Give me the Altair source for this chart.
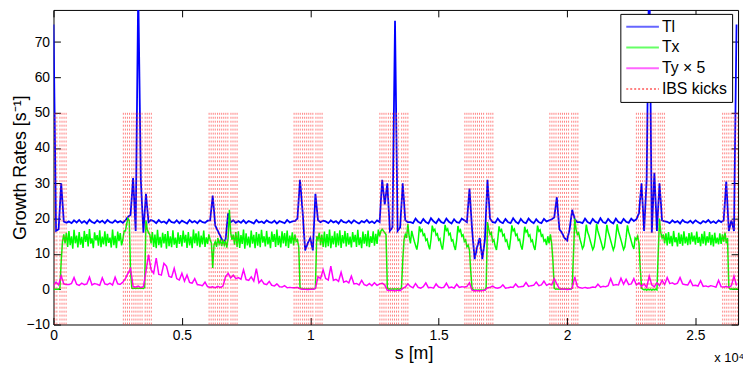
import altair as alt
import pandas as pd

RING_LENGTH = 26659
TL_STEP = 100   # metres between Tl samples
TX_STEP = 50    # metres between Tx samples
TY_STEP = 100   # metres between Ty x 5 samples

TL = [
    75, 16.5, 17, 30, 19.2, 18.8, 19.2, 18.7, 19.5, 18.9,
    19.6, 18.8, 19.3, 18.6, 19.7, 19.0, 18.7, 19.5, 18.9, 19.4,
    18.7, 19.6, 19.0, 18.8, 19.5, 18.9, 19.3, 18.8, 19.5, 20.5,
    21, 31.5, 16.5, 85, 31, 16, 27, 19, 19.6, 19.3,
    18.7, 19.6, 18.9, 19.2, 18.6, 19.7, 19.0, 18.8, 19.5, 18.7,
    19.4, 19.0, 18.6, 19.6, 18.9, 19.3, 18.7, 19.5, 19.0, 18.8,
    19.4, 19.5, 26.5, 18, 16.5, 15, 13.5, 14, 21.5, 19,
    19.5, 18.8, 19.3, 18.8, 19.5, 18.7, 19.3, 19.0, 18.6, 19.6,
    18.9, 19.2, 18.7, 19.5, 19.0, 18.8, 19.4, 18.6, 19.3, 19.0,
    18.7, 19.6, 18.9, 19.2, 19.3, 20, 31, 22, 11, 13,
    14.5, 11, 27, 19.5, 19, 19.4, 19.2, 18.7, 19.5, 18.9,
    19.3, 18.6, 19.6, 19.0, 18.8, 19.4, 18.7, 19.5, 19.0, 18.6,
    19.3, 18.9, 19.6, 18.8, 19.2, 18.7, 19.5, 19, 31, 24,
    30, 16.5, 17.5, 76, 16.5, 17.5, 30, 19.5, 19, 19.0,
    18.7, 20.0, 19.1, 18.7, 19.9, 19.0, 18.6, 20.1, 19.2, 18.7,
    19.9, 19.0, 18.7, 20.0, 19.1, 18.6, 19.8, 19.0, 18.8, 20.0,
    19.5, 19, 28.5, 17, 8.5, 12, 14.5, 8.5, 14, 31,
    20, 19, 18.8, 20.0, 19.1, 18.7, 19.9, 19.0, 18.7, 20.1,
    19.1, 18.6, 19.9, 19.0, 18.7, 20.0, 19.2, 18.7, 19.8, 19.0,
    18.7, 19.9, 19.2, 19.5, 19.8, 20.3, 26, 17, 16, 14.5,
    13.8, 17, 22.5, 19.8, 19, 19.0, 18.7, 20.0, 19.0, 18.6,
    19.9, 19.1, 18.7, 20.1, 19.0, 18.7, 19.9, 19.1, 18.6, 20.0,
    19.0, 18.7, 19.9, 19.1, 18.8, 20.0, 19.3, 19.8, 21.5, 30,
    16.5, 31, 95, 16, 33, 16.5, 30, 19.5, 19.2, 19.1,
    18.7, 19.5, 18.9, 19.3, 18.6, 19.6, 19.0, 18.8, 19.4, 18.7,
    19.5, 19.0, 18.6, 19.3, 18.9, 19.6, 18.8, 19.2, 18.7, 19.5,
    19.0, 19.5, 30.5, 16.5, 19.5, 16.5, 75,
]

TX = [
    0, 0, 0, 0, 0, 0.3, 8, 13.5, 15.5, 13, 16, 12, 16.5, 12.5, 15, 11.5, 16.8, 13, 15.2, 11.8,
    16.2, 12.6, 14.8, 11.7, 16.5, 13.4, 15.6, 12.1, 17, 12.9, 14.4, 11.6, 16.1, 13.8, 15.3, 12.3, 16.7, 11.9, 14.9, 12.7,
    16.4, 12.2, 15.7, 13.1, 14.6, 11.8, 16.9, 12.5, 15.1, 11.6, 16.3, 13.6, 15.9, 12.4, 14, 16.5, 16.5, 18.5, 20, 19.5,
    5, 0.3, 0.2, 0.3, 0.2, 0.3, 0.2, 0.3, 0.2, 0.3, 0.2, 0.5, 19.5, 17, 16, 15.5, 13, 16.2, 12, 15.5,
    11.6, 16.8, 12.5, 14.8, 11.8, 16, 13, 15.6, 11.5, 16.5, 12.2, 15, 11.9, 16.7, 12.6, 14.6, 11.7, 16.1, 12.8, 15.3,
    12.1, 16.6, 13.2, 15.4, 11.7, 16.2, 12.4, 14.9, 11.6, 16.9, 13, 15.8, 12.3, 16.4, 11.9, 15.2, 12.7, 16.6, 12, 14.7,
    12.8, 15.5, 14, 13, 6, 12.5, 13.5, 12, 14.5, 12.8, 13.8, 12.2, 14, 12.5, 13.5, 11.8, 14.5, 22.5, 16, 14,
    15.5, 12.6, 16.2, 12, 16.4, 11.7, 15.3, 12.8, 16.9, 11.5, 15.8, 12.4, 14.9, 11.8, 16.6, 12.9, 15.4, 11.6, 16.2, 12.3,
    15.7, 11.9, 16.8, 13.2, 15, 12.1, 16.5, 12.7, 14.8, 11.6, 16.3, 13.4, 15.6, 12, 16.9, 12.5, 15.1, 11.8, 16.4, 13,
    15.9, 12.2, 16.6, 11.7, 15.2, 12.9, 16.1, 12.4, 15.5, 13.5, 14, 12, 0.5, 0.2, 0, 0.1, 0, 0.1, 0, 0.1,
    0, 0.1, 0, 0.1, 0.3, 15, 14, 16, 12.5, 15.5, 12, 16.3, 11.8, 15.6, 12.2, 16.9, 11.6, 15.1, 12.7, 16.4,
    11.9, 15.8, 12.4, 16.7, 11.7, 15.3, 13, 16.5, 12.1, 15.9, 12.6, 14.9, 11.8, 16.2, 13.3, 15.4, 12, 16.8, 12.5, 14.7,
    11.6, 16.3, 12.9, 15.6, 12.2, 16.6, 11.9, 15, 13.1, 16.4, 12.3, 15.7, 12.8, 16.9, 15, 16.5, 17, 16.5, 16, 15.5,
    0.3, 0, 0.1, 0, 0.1, 0, 0.1, 0, 0.1, 0, 0.1, 0.3, 8, 14, 15.5, 14.5, 18.5, 15, 13, 16.5,
    15, 13.6, 12.4, 11.2, 13.5, 17.8, 16.4, 16.9, 15.2, 15.6, 13.8, 14.2, 12.5, 11.3, 14, 18, 16.5, 17, 15.3, 15.7,
    13.9, 14.3, 12.4, 11.2, 14.2, 18.2, 16.6, 17.1, 15.4, 15.8, 13.7, 14, 12.3, 11.1, 13.8, 17.9, 16.3, 16.8, 15, 15.4,
    13.5, 14, 12, 12.5, 11, 5, 0.2, -0.2, -0.3, -0.2, -0.3, -0.2, -0.3, -0.2, -0.3, -0.2, -0.3, 0.5, 19, 17,
    15.5, 16, 13.5, 14, 12.2, 11.1, 14, 17.8, 16.4, 16.9, 15.1, 15.5, 13.6, 14, 12.3, 11.2, 14.2, 18.1, 16.5, 17,
    15.2, 15.6, 13.8, 14.1, 12.4, 11.2, 13.9, 17.7, 16.2, 16.7, 15, 15.4, 13.5, 13.9, 12.2, 11.1, 14.1, 18, 16.4, 16.8,
    15, 15.4, 13.6, 14, 12.5, 15, 13, 15.5, 13, 8, 0.3, 0, 0.1, 0, 0.1, 0, 0.1, 0, 0.1, 0,
    0.1, 0, 0.1, 0, 0.3, 10, 20, 17, 15.5, 16, 14.2, 13, 11.5, 12.2, 14.8, 18.3, 16.2, 15.2, 13.8, 12.5,
    11.2, 12, 14.5, 18.5, 16.5, 15.3, 14, 12.7, 11.3, 11.9, 14.6, 18.2, 16.3, 15.1, 13.7, 12.4, 11.1, 12.1, 14.9, 18.4,
    16.4, 15.2, 13.9, 12.6, 11.2, 12, 14.7, 18.1, 16.2, 15, 13.6, 12.3, 11.4, 14.5, 14, 15, 13, 6, 0.3, 0,
    -0.2, 0, -0.3, 0, -0.2, 0, -0.3, 0, -0.2, 0, -0.2, 10, 20, 16, 14.5, 15.5, 13, 15.8, 12.4, 16.2,
    12.9, 15.1, 12.2, 16.5, 13.3, 14.7, 12.1, 16, 12.8, 15.5, 12.3, 16.4, 13, 14.9, 12.5, 15.9, 12.7, 16.1, 13.5, 15.2,
    12.6, 16.3, 13.1, 14.8, 12.2, 15.7, 12.9, 16.4, 12.4, 15, 13.2, 16.2, 12.5, 15.4, 12.1, 16, 13, 14.6, 12.7, 15.8,
    12.8, 15.5, 13.5, 16, 13, 14.5, 0.5, 0, 0.1, 0, 0.1, 0, 0.1, 0,
]

TY5 = [
    1, 2, 1.2, 3.8, 1.5, 1.3, 1.3, 1.6, 3.3, 1.4,
    1.1, 1.7, 1.3, 1.5, 3.4, 1.2, 1.6, 1.4, 1.1, 3.2,
    1.5, 1.3, 1.7, 1.2, 3.4, 1.5, 1.4, 2.0, 3, 4.5,
    5.8, 0.8, 0.6, 0.9, 0.5, 0.7, 5, 9.8, 5.5, 4.5,
    8.8, 4.2, 4.0, 7.3, 6.5, 3.6, 3.4, 5.9, 3.0, 2.6,
    4.5, 2.3, 4.0, 1.9, 1.7, 3.0, 1.3, 1.2, 1.0, 2.0,
    0.7, 0.5, 0.7, 0.4, 0.8, 0.5, 0.9, 3.5, 4.5, 3.2,
    4, 3, 3.3, 2.8, 5.5, 2.7, 2.5, 3.5, 2.3, 5.8,
    1.8, 2.6, 1.5, 1.3, 2.2, 1.1, 0.9, 1.5, 0.7, 0.6,
    1.0, 0.4, 0.5, 0.4, 0.4, 0.5, 0.1, 0, 0, -0.1,
    0, 0, 0.2, 3.5, 3, 5.5, 3, 2.6, 6.5, 2.5,
    2.8, 2.2, 4.8, 2, 2.3, 1.8, 3.7, 1.5, 1.6, 1.2,
    2.5, 1.3, 1.0, 1.6, 1.0, 1.8, 1.1, 1.5, 1.7, 1.2,
    -0.3, -0.4, -0.3, -0.5, -0.3, -0.4, 0.2, 0.6, 1.5, 0.8,
    0.4, 1.6, 0.5, 0.3, 0.7, 1.8, 0.4, 0.5, 0.3, 1.5,
    0.6, 0.4, 0.5, 1.7, 0.4, 0.6, 0.3, 1.4, 0.5, 0.7,
    0.6, 0.8, 1.8, -0.3, -0.5, -0.4, -0.5, -0.4, -0.3, 0.4,
    0.5, 0.9, 0.4, 0.3, 0.5, 1.2, 0.3, 0.4, 0.6, 0.5,
    1.5, 0.6, 0.7, 0.8, 1.9, 0.8, 1.0, 1.1, 2.0, 1.0,
    1.2, 2.3, 1.1, 1.5, 1.2, 3, 1.5, 0.2, 0, 0.1,
    -0.1, 0, 0.3, 3.5, 0.8, 0.4, 0.3, 0.5, 0.3, 0.4,
    0.6, 0.5, 1.4, 0.6, 0.8, 0.7, 1.0, 3.0, 1.1, 1.3,
    1.2, 3.1, 1.4, 2.8, 1.3, 1.5, 3.0, 1.2, 1.8, 0.8,
    1.5, 0.5, 3.7, 1.2, 0.7, 1.8, 1, 2.5, 1.3, 3.3,
    1.6, 1.8, 1.4, 1.7, 3.3, 1.5, 1.3, 1.2, 2.5, 1.0,
    1.1, 0.9, 2.4, 0.8, 0.9, 0.7, 1.0, 0.8, 0.6, 2.5,
    0.7, 0.6, 0.8, 0.5, 1, 3.7, 1,
]

SERIES = ["Tl", "Tx", "Ty × 5", "IBS kicks"]
COLORS = ["#0000ff", "#00ff00", "#ff00ff", "#ff3030"]
DASHES = [[1, 0], [1, 0], [1, 0], [2, 2]]

KICK_CLUSTER_STARTS = [2720, 6060, 9370, 12710, 16020, 19330, 22700, 26060]
KICK_OFFSETS = [0, 80, 160, 240, 330, 410, 490, 570, 650, 730, 850, 930, 1010, 1090]
KICK_RANGE = [-10, 50]

X_TICKS = [0, 5000, 10000, 15000, 20000, 25000]
Y_TICKS = [-10, 0, 10, 20, 30, 40, 50, 60, 70]
Y_DOMAIN = [-10, 79.1]
Y_TITLE = "Growth Rates [s⁻¹]"

W, H = 692, 318


def series_frame(name, values, step):
    return pd.DataFrame({
        "s": [i * step for i in range(len(values))],
        "rate": values,
        "series": name,
    })


kick_rows = []
for c in KICK_CLUSTER_STARTS:
    for o in KICK_OFFSETS:
        kick_rows.append({"s": (c + o) % RING_LENGTH, "y0": KICK_RANGE[0],
                          "y1": KICK_RANGE[1], "series": "IBS kicks"})
kicks = pd.DataFrame(kick_rows)

legend = alt.Legend(
    title=None, orient="none", legendX=573, legendY=4, direction="vertical",
    symbolType="stroke", symbolSize=1089, symbolStrokeWidth=2, clipHeight=16,
    rowPadding=5, padding=5, labelFontSize=16, labelFont="Liberation Sans",
    labelColor="black", labelOffset=2, fillColor="white", strokeColor="black",
    labelLimit=200, cornerRadius=0,
)
color = alt.Color("series:N", scale=alt.Scale(domain=SERIES, range=COLORS), legend=legend)
dash = alt.StrokeDash("series:N", scale=alt.Scale(domain=SERIES, range=DASHES), legend=legend)

x_axis = alt.Axis(values=X_TICKS, labelExpr="datum.value / 10000", labelOverlap=False,
                  labelFlush=False, title="s [m]", titleX=364, titleY=34,
                  titleBaseline="alphabetic", titleAlign="center")
y_axis = alt.Axis(values=Y_TICKS, labelOverlap=False, labelFlush=False, labelBound=False,
                  title=Y_TITLE, titleX=-28, titleY=H / 2, titleAngle=270,
                  titleBaseline="alphabetic", titleAlign="center")

x_scale = alt.Scale(domain=[0, RING_LENGTH], nice=False, zero=False)
y_scale = alt.Scale(domain=Y_DOMAIN, nice=False, zero=False)

layers = []
for name, vals, step, sw in [("Tl", TL, TL_STEP, 1.8), ("Tx", TX, TX_STEP, 1.5),
                             ("Ty × 5", TY5, TY_STEP, 1.5)]:
    layers.append(
        alt.Chart(series_frame(name, vals, step)).mark_line(strokeWidth=sw, clip=True)
        .encode(x=alt.X("s:Q", scale=x_scale, axis=x_axis),
                y=alt.Y("rate:Q", scale=y_scale, axis=y_axis, title=Y_TITLE),
                color=color, strokeDash=dash)
    )

layers.append(
    alt.Chart(kicks).mark_rule(strokeWidth=1, opacity=0.6)
    .encode(x=alt.X("s:Q", scale=x_scale, axis=x_axis),
            y=alt.Y("y0:Q", scale=y_scale, axis=y_axis, title=Y_TITLE), y2="y1:Q",
            color=color, strokeDash=dash)
)

layers.append(
    alt.Chart(pd.DataFrame({"t": ["x 10⁴"]}))
    .mark_text(align="left", baseline="alphabetic", fontSize=13,
               font="Liberation Sans", color="black")
    .encode(text="t:N", x=alt.value(668), y=alt.value(356))
)

chart = (
    alt.layer(*layers)
    .properties(width=W, height=H,
                padding={"left": 46, "top": 0, "right": 5, "bottom": 40},
                autosize=alt.AutoSizeParams(type="none"))
    .configure_view(stroke="black", strokeWidth=1)
    .configure_axis(domain=False, ticks=False, tickSize=0, grid=True,
                    gridColor="black", gridOpacity=1, gridWidth=1,
                    labelFont="Liberation Sans", labelFontSize=14, labelColor="black",
                    labelPadding=4, labelOverlap=False, labelFlush=False,
                    titleFont="Liberation Sans", titleFontSize=18,
                    titleFontWeight="normal", titleColor="black")
    .configure_axisX(gridDash=[7, H - 14, 7, 2000])
    .configure_axisY(gridDash=[7, W - 14, 7, 2000])
)

chart.save("out.html", embed_options={"renderer": "svg", "actions": False})
